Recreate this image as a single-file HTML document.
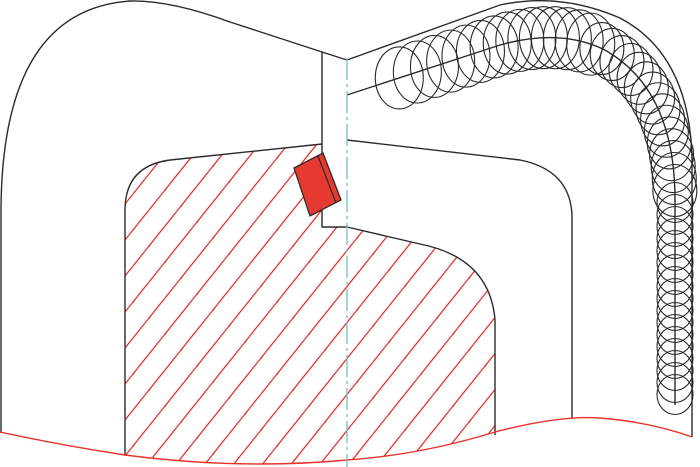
<!DOCTYPE html>
<html><head><meta charset="utf-8"><style>html,body{margin:0;padding:0;background:#fff;width:700px;height:467px;overflow:hidden}svg{display:block}</style></head>
<body>
<svg id="s" width="700" height="467" viewBox="0 0 700 467" xmlns="http://www.w3.org/2000/svg">
<defs>
<clipPath id="hc">
<path d="M322,144 L170,160 Q125,166 125,210 L125,455 Q240,470 347,460 Q420,455 495,432 L495,320 Q490,258 420,244 L347,227 L322,227 Z"/>
</clipPath>
</defs>
<g clip-path="url(#hc)" stroke="#e8322a" stroke-width="1.3" id="hatch"></g>
<g fill="none" stroke="#2a2a2a" stroke-width="1.4">
<path d="M1,432 L1,210 Q2,10 130,1 Q170,0 230,22 L322,52 L347,60"/>
<path d="M322,52 L322,227 L347,227"/>
<path d="M322,144 L170,160 Q125,166 125,210 L125,455"/>
<path d="M347,227 L420,244 Q490,258 495,320 L495,435"/>
<path d="M347,140 L520,160 Q570,170 572,215 L572,418"/>
<path d="M347,60 L500,5 Q560,-8 620,18 Q690,55 692,160 L692,437"/>
<path id="cl" d="M347,95 L500,45 Q560,28 605,50 Q675,90 675,200 L675,405"/>
</g>
<g id="coils" fill="none" stroke="#2a2a2a" stroke-width="1.1"></g>
<path d="M0,432 Q60,445 125,455 Q240,470 347,460 Q420,455 495,432 Q560,415 600,418 Q650,422 692,437" fill="none" stroke="#e8322a" stroke-width="1.4"/>
<line x1="347" y1="58" x2="347" y2="467" stroke="#7cc6c6" stroke-width="1.4" stroke-dasharray="22,4,3,4"/>
<polygon points="294,168 323,153 341,200 310,216" fill="#e63a30" stroke="#2a2a2a" stroke-width="1.3"/>
<line x1="318" y1="156" x2="336" y2="203" stroke="#2a2a2a" stroke-width="1.2"/>
</svg>
<script>
var NS="http://www.w3.org/2000/svg";
var h=document.getElementById('hatch');
for(var b=-300;b<900;b+=36){
 var l=document.createElementNS(NS,'line');
 l.setAttribute('x1',0);l.setAttribute('y1',b+125*1.25);
 l.setAttribute('x2',700);l.setAttribute('y2',b-575*1.25);
 h.appendChild(l);
}
var cl=document.getElementById('cl'),c=document.getElementById('coils');
var L=cl.getTotalLength(),s=55;
while(s<=L){
 var p=cl.getPointAtLength(s);
 var e=document.createElementNS(NS,'ellipse');
 var rx,ry;
 if(p.y>200){rx=18;ry=20;}
 else if(p.x>600){rx=22;ry=26;}
 else {rx=24;ry=31;}
 e.setAttribute('cx',p.x);e.setAttribute('cy',p.y);
 e.setAttribute('rx',rx);e.setAttribute('ry',ry);
 c.appendChild(e);
 var t=s/L;
 s+= t<0.3? 22 - t*35 : 12;
}
</script>
</body></html>
